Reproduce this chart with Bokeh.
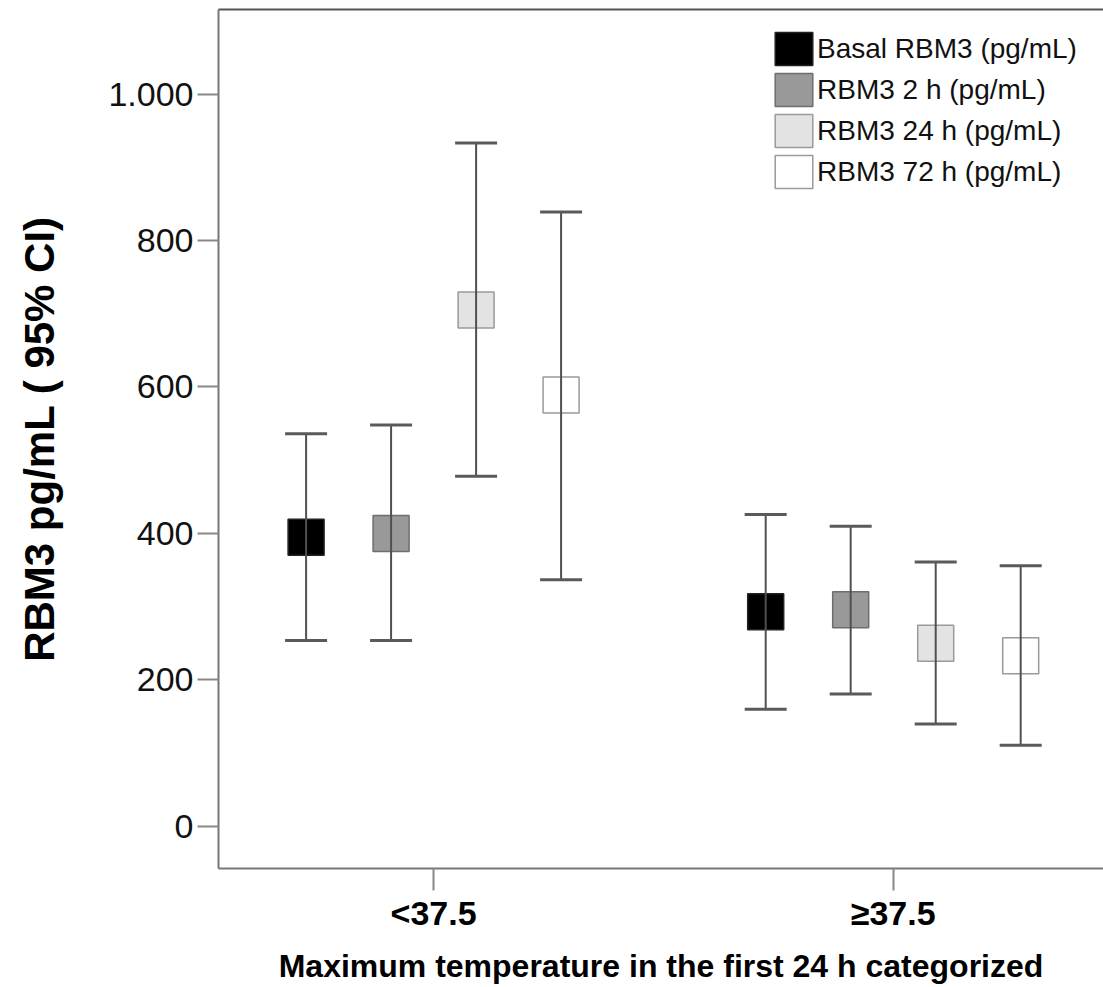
from bokeh.plotting import figure
from bokeh.models import (ColumnDataSource, Whisker, TeeHead, FixedTicker, LinearAxis,
                          Range1d, Legend, LegendItem)
from bokeh.transform import dodge
from bokeh.embed import file_html
from bokeh.resources import INLINE

# ---- data ----
categories = ["<37.5", "\u226537.5"]
group_pos = [1, 2]
series_names = ["Basal RBM3 (pg/mL)", "RBM3 2 h (pg/mL)", "RBM3 24 h (pg/mL)", "RBM3 72 h (pg/mL)"]

basal_mean = [395, 293]
basal_lower = [254, 160]
basal_upper = [536, 426]

h2_mean = [400, 296]
h2_lower = [254, 181]
h2_upper = [548, 410]

h24_mean = [705, 250]
h24_lower = [478, 140]
h24_upper = [933, 361]

h72_mean = [589, 233]
h72_lower = [337, 111]
h72_upper = [839, 356]

y_ticks = [0, 200, 400, 600, 800, 1000]
y_tick_labels = ["0", "200", "400", "600", "800", "1.000"]

fills = ["#000000", "#999999", "#e3e3e3", "#ffffff"]
edges = ["#222222", "#6e6e6e", "#9a9a9a", "#9a9a9a"]
offsets = [-0.2774, -0.0925, 0.0925, 0.2774]

FONT = "Liberation Sans"

p = figure(width=1103, height=987, output_backend="svg", toolbar_location=None,
           x_range=Range1d(0.532, 2.4576), y_range=Range1d(-57.4, 1115.4),
           min_border_left=218, min_border_right=0, min_border_top=9,
           min_border_bottom=119)
p.background_fill_color = "white"
p.border_fill_color = "white"
p.outline_line_color = None
p.xgrid.visible = False
p.ygrid.visible = False

means = [basal_mean, h2_mean, h24_mean, h72_mean]
lowers = [basal_lower, h2_lower, h24_lower, h72_lower]
uppers = [basal_upper, h2_upper, h24_upper, h72_upper]

items = []
for i in range(4):
    src = ColumnDataSource(dict(x=group_pos, mean=means[i], lower=lowers[i], upper=uppers[i]))
    xs = dodge("x", offsets[i], range=p.x_range)
    r = p.rect(x=xs, y="mean", width=36, height=36, width_units="screen", height_units="screen",
               source=src, fill_color=fills[i], line_color=edges[i], line_width=1.5)
    items.append(LegendItem(label=series_names[i], renderers=[r]))
    w = Whisker(base=xs, upper="upper", lower="lower", source=src,
                line_color="#505050", line_width=2, level="annotation",
                upper_head=TeeHead(size=42, line_color="#5a5a5a", line_width=3),
                lower_head=TeeHead(size=42, line_color="#5a5a5a", line_width=3))
    p.add_layout(w)

legend = Legend(items=items, location=(552, 676), orientation="vertical",
                glyph_width=47, glyph_height=41, spacing=0, padding=4, margin=0,
                label_standoff=0, label_text_font=FONT, label_text_font_size="28px",
                label_text_color="#111111", border_line_color=None,
                background_fill_alpha=0)
p.add_layout(legend, "center")

# y axis
ya = p.left[0]
ya.ticker = FixedTicker(ticks=y_ticks)
ya.major_label_overrides = {t: l for t, l in zip(y_ticks, y_tick_labels)}
ya.minor_tick_line_color = None
ya.major_tick_out = 21
ya.major_tick_in = 0
ya.major_tick_line_color = "#888888"
ya.major_tick_line_width = 2
ya.axis_line_color = "#777777"
ya.axis_line_width = 2
ya.major_label_standoff = 4
ya.major_label_text_font = FONT
ya.major_label_text_font_size = "34px"
ya.major_label_text_color = "#111111"
ya.axis_label = "RBM3 pg/mL ( 95% CI)"
ya.axis_label_text_font = FONT
ya.axis_label_text_font_style = "bold"
ya.axis_label_text_font_size = "42px"
ya.axis_label_text_color = "#000000"
ya.axis_label_standoff = 42

# x axis
xa = p.below[0]
xa.ticker = FixedTicker(ticks=group_pos)
xa.major_label_overrides = {g: c for g, c in zip(group_pos, categories)}
xa.minor_tick_line_color = None
xa.major_tick_out = 22
xa.major_tick_in = 0
xa.major_tick_line_color = "#888888"
xa.major_tick_line_width = 2
xa.axis_line_color = "#777777"
xa.axis_line_width = 2
xa.major_label_standoff = 3
xa.major_label_text_font = FONT
xa.major_label_text_font_style = "bold"
xa.major_label_text_font_size = "34px"
xa.major_label_text_color = "#000000"
xa.axis_label = "Maximum temperature in the first 24 h categorized"
xa.axis_label_text_font = FONT
xa.axis_label_text_font_style = "bold"
xa.axis_label_text_font_size = "32px"
xa.axis_label_text_color = "#000000"
xa.axis_label_standoff = 13

# top frame line (an axis with no ticks or labels)
top_axis = LinearAxis(ticker=FixedTicker(ticks=[]), axis_line_color="#555555", axis_line_width=2,
                      major_tick_line_color=None, minor_tick_line_color=None,
                      major_tick_out=0, major_tick_in=0, major_label_standoff=0,
                      major_label_text_font_size="0px")
p.add_layout(top_axis, "above")

open("out.html", "w").write(file_html(p, INLINE))
